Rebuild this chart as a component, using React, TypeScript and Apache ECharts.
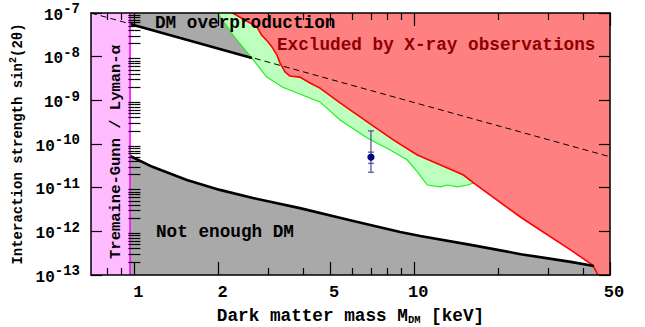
import { useEffect, useRef } from "react";
import * as echarts from "echarts";

const FONT = '"Liberation Mono", "Courier New", monospace';

// Axis extents: sterile neutrino mass [keV] and mixing angle sin^2(2θ)
const massRange = [0.7, 50];
const sin2Range = [1e-13, 1e-7];

const massLabels = [1, 2, 5, 10, 50];
const massMinorTicks = [0.8, 0.9, 3, 4, 6, 7, 8, 9, 20, 30, 40];
const sin2Exponents = [-13, -12, -11, -10, -9, -8, -7];
const minorMantissas = [2, 3, 4, 5, 6, 7, 8, 9];

// Tremaine-Gunn / Lyman-alpha lower mass bound
const tgLimit = 0.965;

// Upper production bound (solid where it bounds the allowed region)
const overMass = [0.965, 2.63];
const overSin2 = [5.6e-8, 9.3e-9];
// Same bound continued as a dashed line
const dashMass = [0.7, 50];
const dashSin2 = [1.0e-7, 5.1e-11];

// Lower production bound
const underMass = [0.965, 1.16, 1.54, 2.02, 2.65, 3.9, 5.9, 8.9, 10.5, 15.9, 24.0, 36.2, 43.8];
const underSin2 = [5.3e-11, 3.0e-11, 1.5e-11, 8.9e-12, 5.8e-12, 3.4e-12, 1.8e-12, 9.7e-13, 7.8e-13, 4.9e-13, 3.0e-13, 2.0e-13, 1.6e-13];

// X-ray exclusion boundary
const xrayMass = [2.245, 2.48, 2.74, 2.85, 3.0, 3.1, 3.23, 3.31, 3.45, 3.59, 3.9, 4.24, 4.6, 5.43, 6.79, 8.41, 10.25, 12.4, 14.98, 16.27, 23.98, 36.24, 42.73, 43.81, 45.29];
const xraySin2 = [1e-7, 6.9e-8, 4.8e-8, 3.1e-8, 2.2e-8, 1.67e-8, 1.09e-8, 7.2e-9, 4.5e-9, 3.6e-9, 3.4e-9, 2.5e-9, 1.9e-9, 8.7e-10, 3.2e-10, 1.24e-10, 5.6e-11, 3.3e-11, 1.95e-11, 1.28e-11, 2.1e-12, 3.7e-13, 1.8e-13, 1.5e-13, 1.0e-13];

// Lower edge of the green band (upper edge runs along the X-ray bound)
const bandMass = [1.98, 2.28, 2.63, 2.97, 3.39, 3.9, 4.6, 5.43, 6.79, 8.2, 9.44, 10.25, 11.13, 12.4, 13.13, 14.26, 15.49, 16.27];
const bandSin2 = [1e-7, 2.8e-8, 9.3e-9, 3.4e-9, 2.0e-9, 1.4e-9, 9.2e-10, 3.55e-10, 1.37e-10, 7.3e-11, 4.3e-11, 2.3e-11, 1.15e-11, 1.04e-11, 1.15e-11, 1.04e-11, 1.15e-11, 1.28e-11];

// 3.5 keV line candidate with outer and inner error ranges
const lineMass = 7.0;
const lineSin2 = 5.0e-11;
const lineOuter = [2.25e-11, 2.0e-10];
const lineInner = [3.6e-11, 6.5e-11];

const lg = Math.log10;
const pts = (m: number[], s: number[]) => m.map((v, i) => [lg(v), lg(s[i])]);

function buildOption() {
  const left = lg(massRange[0]);
  const right = lg(massRange[1]);
  const bottom = lg(sin2Range[0]);
  const top = lg(sin2Range[1]);
  const tg = lg(tgLimit);

  const overPts = pts(overMass, overSin2);
  const dashPts = pts(dashMass, dashSin2);
  const underPts = pts(underMass, underSin2);
  const xrayPts = pts(xrayMass, xraySin2);
  const bandPts = pts(bandMass, bandSin2);

  const overEnd = overPts[overPts.length - 1][0];
  const bandEnd = bandPts[bandPts.length - 1][0];

  const pinkPoly = [[left, bottom], [tg, bottom], [tg, top], [left, top]];
  const greyUpper = [[tg, top], ...overPts, ...bandPts.filter((p) => p[0] <= overEnd).reverse()];
  const greyLower = [[tg, bottom], ...underPts, [xrayPts[xrayPts.length - 1][0], bottom]];
  const greenPoly = [...bandPts, ...xrayPts.filter((p) => p[0] <= bandEnd).reverse()];
  const redPoly = [...xrayPts, [right, bottom], [right, top]];

  const shape = (points: number[][], kind: string, style: any, z: number) => ({
    type: "custom",
    coordinateSystem: "cartesian2d",
    xAxisIndex: 0,
    yAxisIndex: 0,
    silent: true,
    clip: true,
    z,
    data: [[points[0][0], points[0][1]]],
    renderItem: (_p: any, api: any) => ({
      type: kind,
      shape: { points: points.map((p) => api.coord(p)) },
      style,
    }),
  });

  const fill = (c: string) => ({ fill: c, stroke: null });
  const stroke = (c: string, w: number, dash?: number[]) => ({
    fill: null,
    stroke: c,
    lineWidth: w,
    lineDash: dash,
  });

  const yMinor: number[] = [];
  sin2Exponents.slice(0, -1).forEach((e) => minorMantissas.forEach((k) => yMinor.push(e + lg(k))));

  const tickStyle = { color: "#000", width: 1.2 };
  const frameStyle = { color: "#000", width: 1.5 };
  const xBase = { type: "value", min: left, max: right, splitLine: { show: false }, z: 30 };
  const yBase = { type: "value", min: bottom, max: top, splitLine: { show: false }, z: 30 };

  const boldText = { fontFamily: FONT, fontWeight: "bold", color: "#000" };

  const errColor = "rgba(60,60,150,0.75)";

  return {
    animation: false,
    backgroundColor: "#fff",
    grid: { left: 91, right: 35, top: 13, bottom: 52, containLabel: false, outerBoundsMode: "none" },
    xAxis: [
      {
        ...xBase,
        position: "bottom",
        axisLine: { show: true, onZero: false, lineStyle: frameStyle },
        axisTick: { show: true, inside: true, length: 13, lineStyle: tickStyle, customValues: massLabels.map(lg) },
        axisLabel: {
          show: true,
          customValues: massLabels.map(lg),
          formatter: (v: number) => String(Math.round(Math.pow(10, v))),
          ...boldText,
          fontSize: 17,
          margin: 9,
          padding: [0, 0, 0, 8],
        },
        name: "{a|Dark matter mass M}{s|DM}{a| [keV]}",
        nameLocation: "middle",
        nameGap: 32,
        nameTextStyle: {
          rich: {
            a: { ...boldText, fontSize: 17.7, verticalAlign: "top" },
            s: { ...boldText, fontSize: 10.5, verticalAlign: "top", padding: [7.5, 0, 0, 0] },
          },
        },
      },
      {
        ...xBase,
        position: "bottom",
        axisLine: { show: false },
        axisTick: { show: true, inside: true, length: 7, lineStyle: tickStyle, customValues: massMinorTicks.map(lg) },
        axisLabel: { show: false },
      },
      {
        ...xBase,
        position: "top",
        axisLine: { show: true, onZero: false, lineStyle: frameStyle },
        axisTick: { show: true, inside: true, length: 13, lineStyle: tickStyle, customValues: massLabels.map(lg) },
        axisLabel: { show: false },
      },
      {
        ...xBase,
        position: "top",
        axisLine: { show: false },
        axisTick: { show: true, inside: true, length: 7, lineStyle: tickStyle, customValues: massMinorTicks.map(lg) },
        axisLabel: { show: false },
      },
    ],
    yAxis: [
      {
        ...yBase,
        position: "left",
        axisLine: { show: true, onZero: false, lineStyle: frameStyle },
        axisTick: { show: true, inside: true, length: 11, lineStyle: tickStyle, customValues: sin2Exponents },
        axisLabel: {
          show: true,
          customValues: sin2Exponents,
          formatter: (v: number) => `{b|10}{s|${Math.round(v)}}`,
          margin: 11,
          rich: {
            b: { ...boldText, fontSize: 16, verticalAlign: "top", padding: [5.5, 0, 0, 0] },
            s: { ...boldText, fontSize: 14, verticalAlign: "top" },
          },
        },
        name: "{a|Interaction strength sin}{s|2}{a|(2θ)}",
        nameLocation: "middle",
        nameGap: 59,
        nameTextStyle: {
          rich: {
            a: { ...boldText, fontSize: 14, verticalAlign: "top", padding: [2, 0, 0, 0] },
            s: { ...boldText, fontSize: 10, verticalAlign: "top" },
          },
        },
      },
      {
        ...yBase,
        position: "left",
        axisLine: { show: false },
        axisTick: { show: true, inside: true, length: 6, lineStyle: tickStyle, customValues: yMinor },
        axisLabel: { show: false },
      },
      {
        ...yBase,
        position: "right",
        axisLine: { show: true, onZero: false, lineStyle: frameStyle },
        axisTick: { show: true, inside: true, length: 11, lineStyle: tickStyle, customValues: sin2Exponents },
        axisLabel: { show: false },
      },
      {
        ...yBase,
        position: "right",
        axisLine: { show: false },
        axisTick: { show: true, inside: true, length: 6, lineStyle: tickStyle, customValues: yMinor },
        axisLabel: { show: false },
      },
    ],
    series: [
      shape(pinkPoly, "polygon", fill("#ffbbff"), 1),
      shape(greyUpper, "polygon", fill("#a9a9a9"), 2),
      shape(greyLower, "polygon", fill("#a9a9a9"), 2),
      shape(greenPoly, "polygon", fill("#bdffbd"), 3),
      shape(redPoly, "polygon", fill("#ff8080"), 4),
      shape(bandPts, "polyline", stroke("#22ee22", 1.2), 5),
      shape(xrayPts, "polyline", stroke("#ff0000", 1.6), 6),
      shape(dashPts, "polyline", stroke("#000", 1, [6, 4]), 7),
      shape(overPts, "polyline", stroke("#000", 2.6), 7),
      shape(underPts, "polyline", stroke("#000", 2.6), 7),
      shape([[tg, bottom], [tg, top]], "polyline", stroke("#ff00ff", 1.6), 7),
      {
        type: "custom",
        coordinateSystem: "cartesian2d",
        xAxisIndex: 0,
        yAxisIndex: 0,
        silent: true,
        z: 8,
        data: [[lg(lineMass), lg(lineSin2), lg(lineOuter[0]), lg(lineOuter[1]), lg(lineInner[0]), lg(lineInner[1])]],
        encode: { x: 0, y: 1 },
        renderItem: (_p: any, api: any) => {
          const x = api.value(0);
          const c = api.coord([x, api.value(1)]);
          const o0 = api.coord([x, api.value(2)]);
          const o1 = api.coord([x, api.value(3)]);
          const i0 = api.coord([x, api.value(4)]);
          const i1 = api.coord([x, api.value(5)]);
          const ls = { stroke: errColor, lineWidth: 1.5 };
          const cap = (p: number[]) => ({
            type: "line",
            shape: { x1: p[0] - 3, y1: p[1], x2: p[0] + 3, y2: p[1] },
            style: ls,
          });
          return {
            type: "group",
            children: [
              { type: "line", shape: { x1: o0[0], y1: o0[1], x2: o1[0], y2: o1[1] }, style: ls },
              cap(o0),
              cap(o1),
              cap(i0),
              cap(i1),
              { type: "circle", shape: { cx: c[0], cy: c[1], r: 3.6 }, style: { fill: "#000080" } },
            ],
          };
        },
      },
    ],
    graphic: [
      {
        type: "text",
        x: 155,
        y: 23,
        z: 40,
        silent: true,
        style: { text: "DM overproduction", fill: "#000", fontFamily: FONT, fontWeight: "bold", fontSize: 17.7, textAlign: "left", textVerticalAlign: "middle" },
      },
      {
        type: "text",
        x: 277,
        y: 45,
        z: 40,
        silent: true,
        style: { text: "Excluded by X-ray observations", fill: "#8e0000", fontFamily: FONT, fontWeight: "bold", fontSize: 17.7, textAlign: "left", textVerticalAlign: "middle" },
      },
      {
        type: "text",
        x: 156,
        y: 232,
        z: 40,
        silent: true,
        style: { text: "Not enough DM", fill: "#000", fontFamily: FONT, fontWeight: "bold", fontSize: 17.7, textAlign: "left", textVerticalAlign: "middle" },
      },
      {
        type: "text",
        x: 116,
        y: 152,
        rotation: Math.PI / 2,
        z: 40,
        silent: true,
        style: { text: "Tremaine-Gunn / Lyman-α", fill: "#000", fontFamily: FONT, fontWeight: "bold", fontSize: 15.5, textAlign: "center", textVerticalAlign: "middle" },
      },
    ],
  };
}

export default function App() {
  const ref = useRef<HTMLDivElement>(null);
  useEffect(() => {
    if (!ref.current) return;
    const chart = echarts.init(ref.current, null, { renderer: "svg" });
    chart.setOption(buildOption() as any);
    return () => chart.dispose();
  }, []);
  return (
    <div
      ref={ref}
      style={{ position: "fixed", left: 0, top: 0, width: 645, height: 327, background: "#fff" }}
    />
  );
}
